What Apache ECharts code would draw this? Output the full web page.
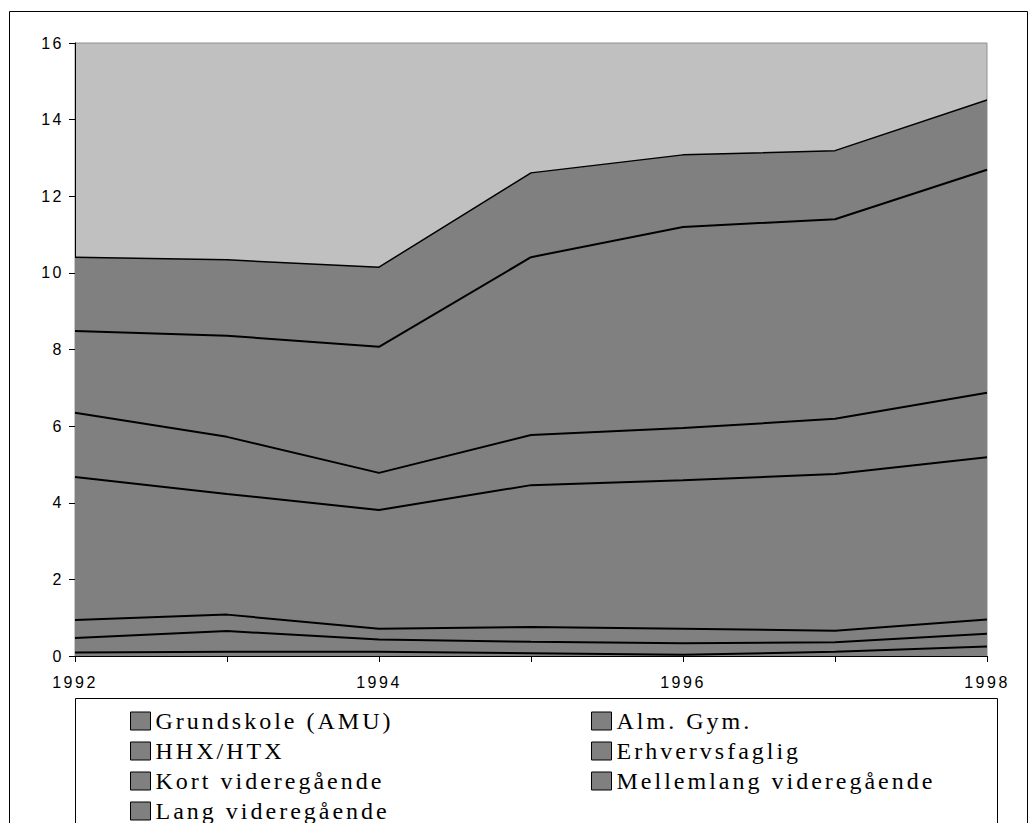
<!DOCTYPE html>
<html>
<head>
<meta charset="utf-8">
<script src="https://cdn.jsdelivr.net/npm/echarts@6/dist/echarts.min.js"></script>
<style>
html,body{margin:0;padding:0;background:#fff;}
#chart{width:1030px;height:823px;}
#chart text[style*="Liberation Serif"]{letter-spacing:3px;}
#chart text[style*="Liberation Sans"]{letter-spacing:2.5px;}
</style>
</head>
<body>
<div id="chart"></div>
<script>
const years = ['1992', '1993', '1994', '1995', '1996', '1997', '1998'];
const grundskole = [0.09, 0.11, 0.11, 0.07, 0.03, 0.11, 0.25];
const almGym = [0.38, 0.54, 0.32, 0.30, 0.30, 0.25, 0.33];
const hhxHtx = [0.47, 0.43, 0.28, 0.39, 0.38, 0.30, 0.37];
const erhvervsfaglig = [3.73, 3.15, 3.10, 3.70, 3.88, 4.09, 4.24];
const kortVideregaende = [1.68, 1.49, 0.97, 1.31, 1.36, 1.44, 1.68];
const mellemlangVideregaende = [2.13, 2.64, 3.29, 4.64, 5.25, 5.21, 5.82];
const langVideregaende = [1.93, 1.98, 2.08, 2.20, 1.88, 1.79, 1.82];

const seriesNames = ['Grundskole (AMU)', 'Alm. Gym.', 'HHX/HTX', 'Erhvervsfaglig',
  'Kort videregående', 'Mellemlang videregående', 'Lang videregående'];
const seriesData = [grundskole, almGym, hhxHtx, erhvervsfaglig, kortVideregaende,
  mellemlangVideregaende, langVideregaende];

const chart = echarts.init(document.getElementById('chart'), null, {renderer: 'svg'});

const axisFont = {fontFamily: 'Liberation Sans', fontSize: 16, color: '#000'};
const legendCommon = {
  orient: 'horizontal',
  icon: 'rect',
  itemWidth: 20,
  itemHeight: 18,
  padding: 0,
  itemStyle: {color: '#808080', borderColor: '#000', borderWidth: 1},
  textStyle: {fontFamily: 'Liberation Serif', fontSize: 24, color: '#000', padding: [0, 0, 0, 0]},
  selectedMode: false
};
// legend items: two columns, row-major as in the reference
const legends = seriesNames.map((name, i) => Object.assign({}, legendCommon, {
  left: i % 2 === 0 ? 130 : 591,
  top: 709 + 30 * Math.floor(i / 2),
  data: [name]
}));

chart.setOption({
  animation: false,
  backgroundColor: '#fff',
  graphic: [
    {type: 'rect', shape: {x: 9.5, y: 11.5, width: 1018, height: 830}, style: {fill: 'none', stroke: '#000', lineWidth: 1}, silent: true},
    {type: 'rect', shape: {x: 75.5, y: 698.5, width: 922, height: 200}, style: {fill: 'none', stroke: '#000', lineWidth: 1}, silent: true}
  ],
  legend: legends,
  grid: {
    left: 75, right: 43, top: 43, bottom: 167,
    show: true, backgroundColor: '#c0c0c0', borderColor: '#909090', borderWidth: 1,
    containLabel: false
  },
  xAxis: {
    type: 'category',
    data: years,
    boundaryGap: false,
    axisLine: {lineStyle: {color: '#000', width: 1}},
    axisTick: {show: true, interval: 0, length: 6, lineStyle: {color: '#000'}},
    axisLabel: Object.assign({interval: 1, margin: 18}, axisFont),
    splitLine: {show: false}
  },
  yAxis: {
    type: 'value',
    min: 0, max: 16, interval: 2,
    axisLine: {show: true, lineStyle: {color: '#000', width: 1}},
    axisTick: {show: true, length: 6, lineStyle: {color: '#000'}},
    axisLabel: Object.assign({margin: 11}, axisFont),
    splitLine: {show: false}
  },
  series: seriesNames.map((name, i) => ({
    name: name,
    type: 'line',
    stack: 'total',
    data: seriesData[i],
    symbol: 'none',
    lineStyle: {color: '#000', width: i === 6 ? 1.5 : 2},
    itemStyle: {color: '#808080'},
    areaStyle: {color: '#808080', opacity: 1}
  }))
});
</script>
</body>
</html>
